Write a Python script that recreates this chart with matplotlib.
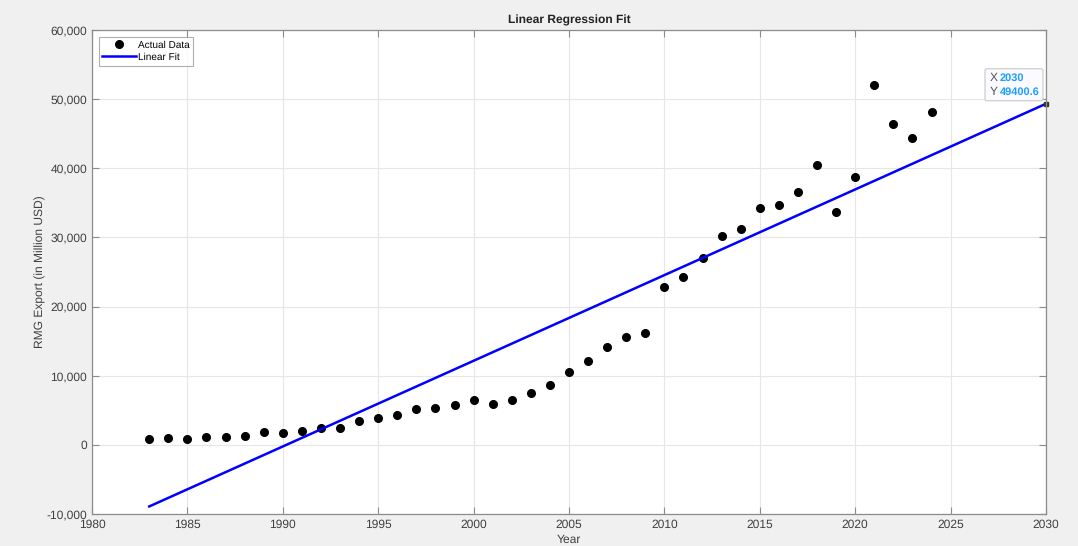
import numpy as np
import matplotlib.pyplot as plt
from matplotlib.ticker import FuncFormatter
from matplotlib.patches import FancyBboxPatch
from matplotlib.transforms import ScaledTranslation

plt.rcParams['font.family'] = ['Liberation Sans', 'DejaVu Sans']
plt.rcParams['text.hinting'] = 'no_hinting'
plt.rcParams['text.hinting_factor'] = 1

# Datos
years = list(range(1983, 2025))
rmg_export = [820, 960, 820, 1110, 1200, 1300, 1880, 1690, 1970, 2400,
              2500, 3460, 3890, 4380, 5140, 5290, 5720, 6440, 5960, 6540,
              7550, 8600, 10480, 12140, 14100, 15540, 16160, 22900, 24240, 26990,
              30160, 31170, 34250, 34630, 36610, 40500, 33620, 38730, 52010, 46380,
              44400, 48200]
fit_years = [1983, 2030]
tip_label = ["2030", "49400.6"]

# Ajuste lineal
coef = np.polyfit(years, rmg_export, 1)
fit_vals = np.polyval(coef, fit_years)

fig = plt.figure(figsize=(10.78, 5.46), dpi=100, facecolor='#f0f0f0')
ax = fig.add_axes([92 / 1078, 32 / 546, (1046 - 92) / 1078, (514 - 30) / 546])

ax.plot(years, rmg_export, 'o', color='black', markersize=5.5, label='Actual Data')
ax.plot(fit_years, fit_vals, '-', color='#0000ff', linewidth=1.8, label='Linear Fit')
ax.plot([fit_years[-1]], [fit_vals[-1]], 's', color='#333333', markersize=2.5, clip_on=False)

ax.set_xlim(1980, 2030)
ax.set_ylim(-10000, 60000)
ax.set_xticks(range(1980, 2031, 5))
ax.set_yticks(range(-10000, 60001, 10000))
ax.yaxis.set_major_formatter(FuncFormatter(lambda v, p: f'{int(v):,}'))

gris = '#404040'
ax.grid(True, color='#e6e6e6', linewidth=0.8)
ax.set_axisbelow(True)
for s in ax.spines.values():
    s.set_color('#8c8c8c')
    s.set_linewidth(0.9)
ax.tick_params(direction='in', length=5, colors='#8c8c8c', labelcolor=gris, labelsize=8.5,
               top=True, right=True)

ax.set_title('Linear Regression Fit', fontsize=8.5, fontweight='bold', color='#222222', pad=5)
ax.set_xlabel('Year', fontsize=8.5, color=gris, labelpad=3)
ax.set_ylabel('RMG Export (in Million USD)', fontsize=8.5, color=gris, labelpad=0)

leg = ax.legend(loc='upper left', fontsize=7.5, frameon=True, fancybox=False,
                borderpad=0.35, labelspacing=0.25, handlelength=3.2, handletextpad=0.2,
                bbox_to_anchor=(0.005, 0.99), borderaxespad=0.2)
leg.get_frame().set_edgecolor('#9a9a9a')
leg.get_frame().set_linewidth(0.8)

# Datatip: caja y textos en pulgadas relativas al punto (2030, ajuste)
tr = fig.dpi_scale_trans + ScaledTranslation(fit_years[-1], fit_vals[-1], ax.transData)
caja = FancyBboxPatch((-0.61, 0.03), 0.58, 0.32, boxstyle='round,pad=0,rounding_size=0.02',
                      fc='#fbfbff', ec='#c8c8c8', lw=0.8, transform=tr, clip_on=False, zorder=5)
ax.add_patch(caja)
for fila, (letra, valor) in enumerate(zip(['X', 'Y'], tip_label)):
    yy = 0.26 - 0.14 * fila
    ax.text(-0.565, yy, letra, transform=tr, fontsize=8.5, color='#555555',
            ha='left', va='center', zorder=6, clip_on=False)
    ax.text(-0.46, yy, valor, transform=tr, fontsize=8, fontweight='bold', color='#1a9fff',
            ha='left', va='center', zorder=6, clip_on=False)

fig.savefig('out.png', dpi=100, facecolor=fig.get_facecolor())
